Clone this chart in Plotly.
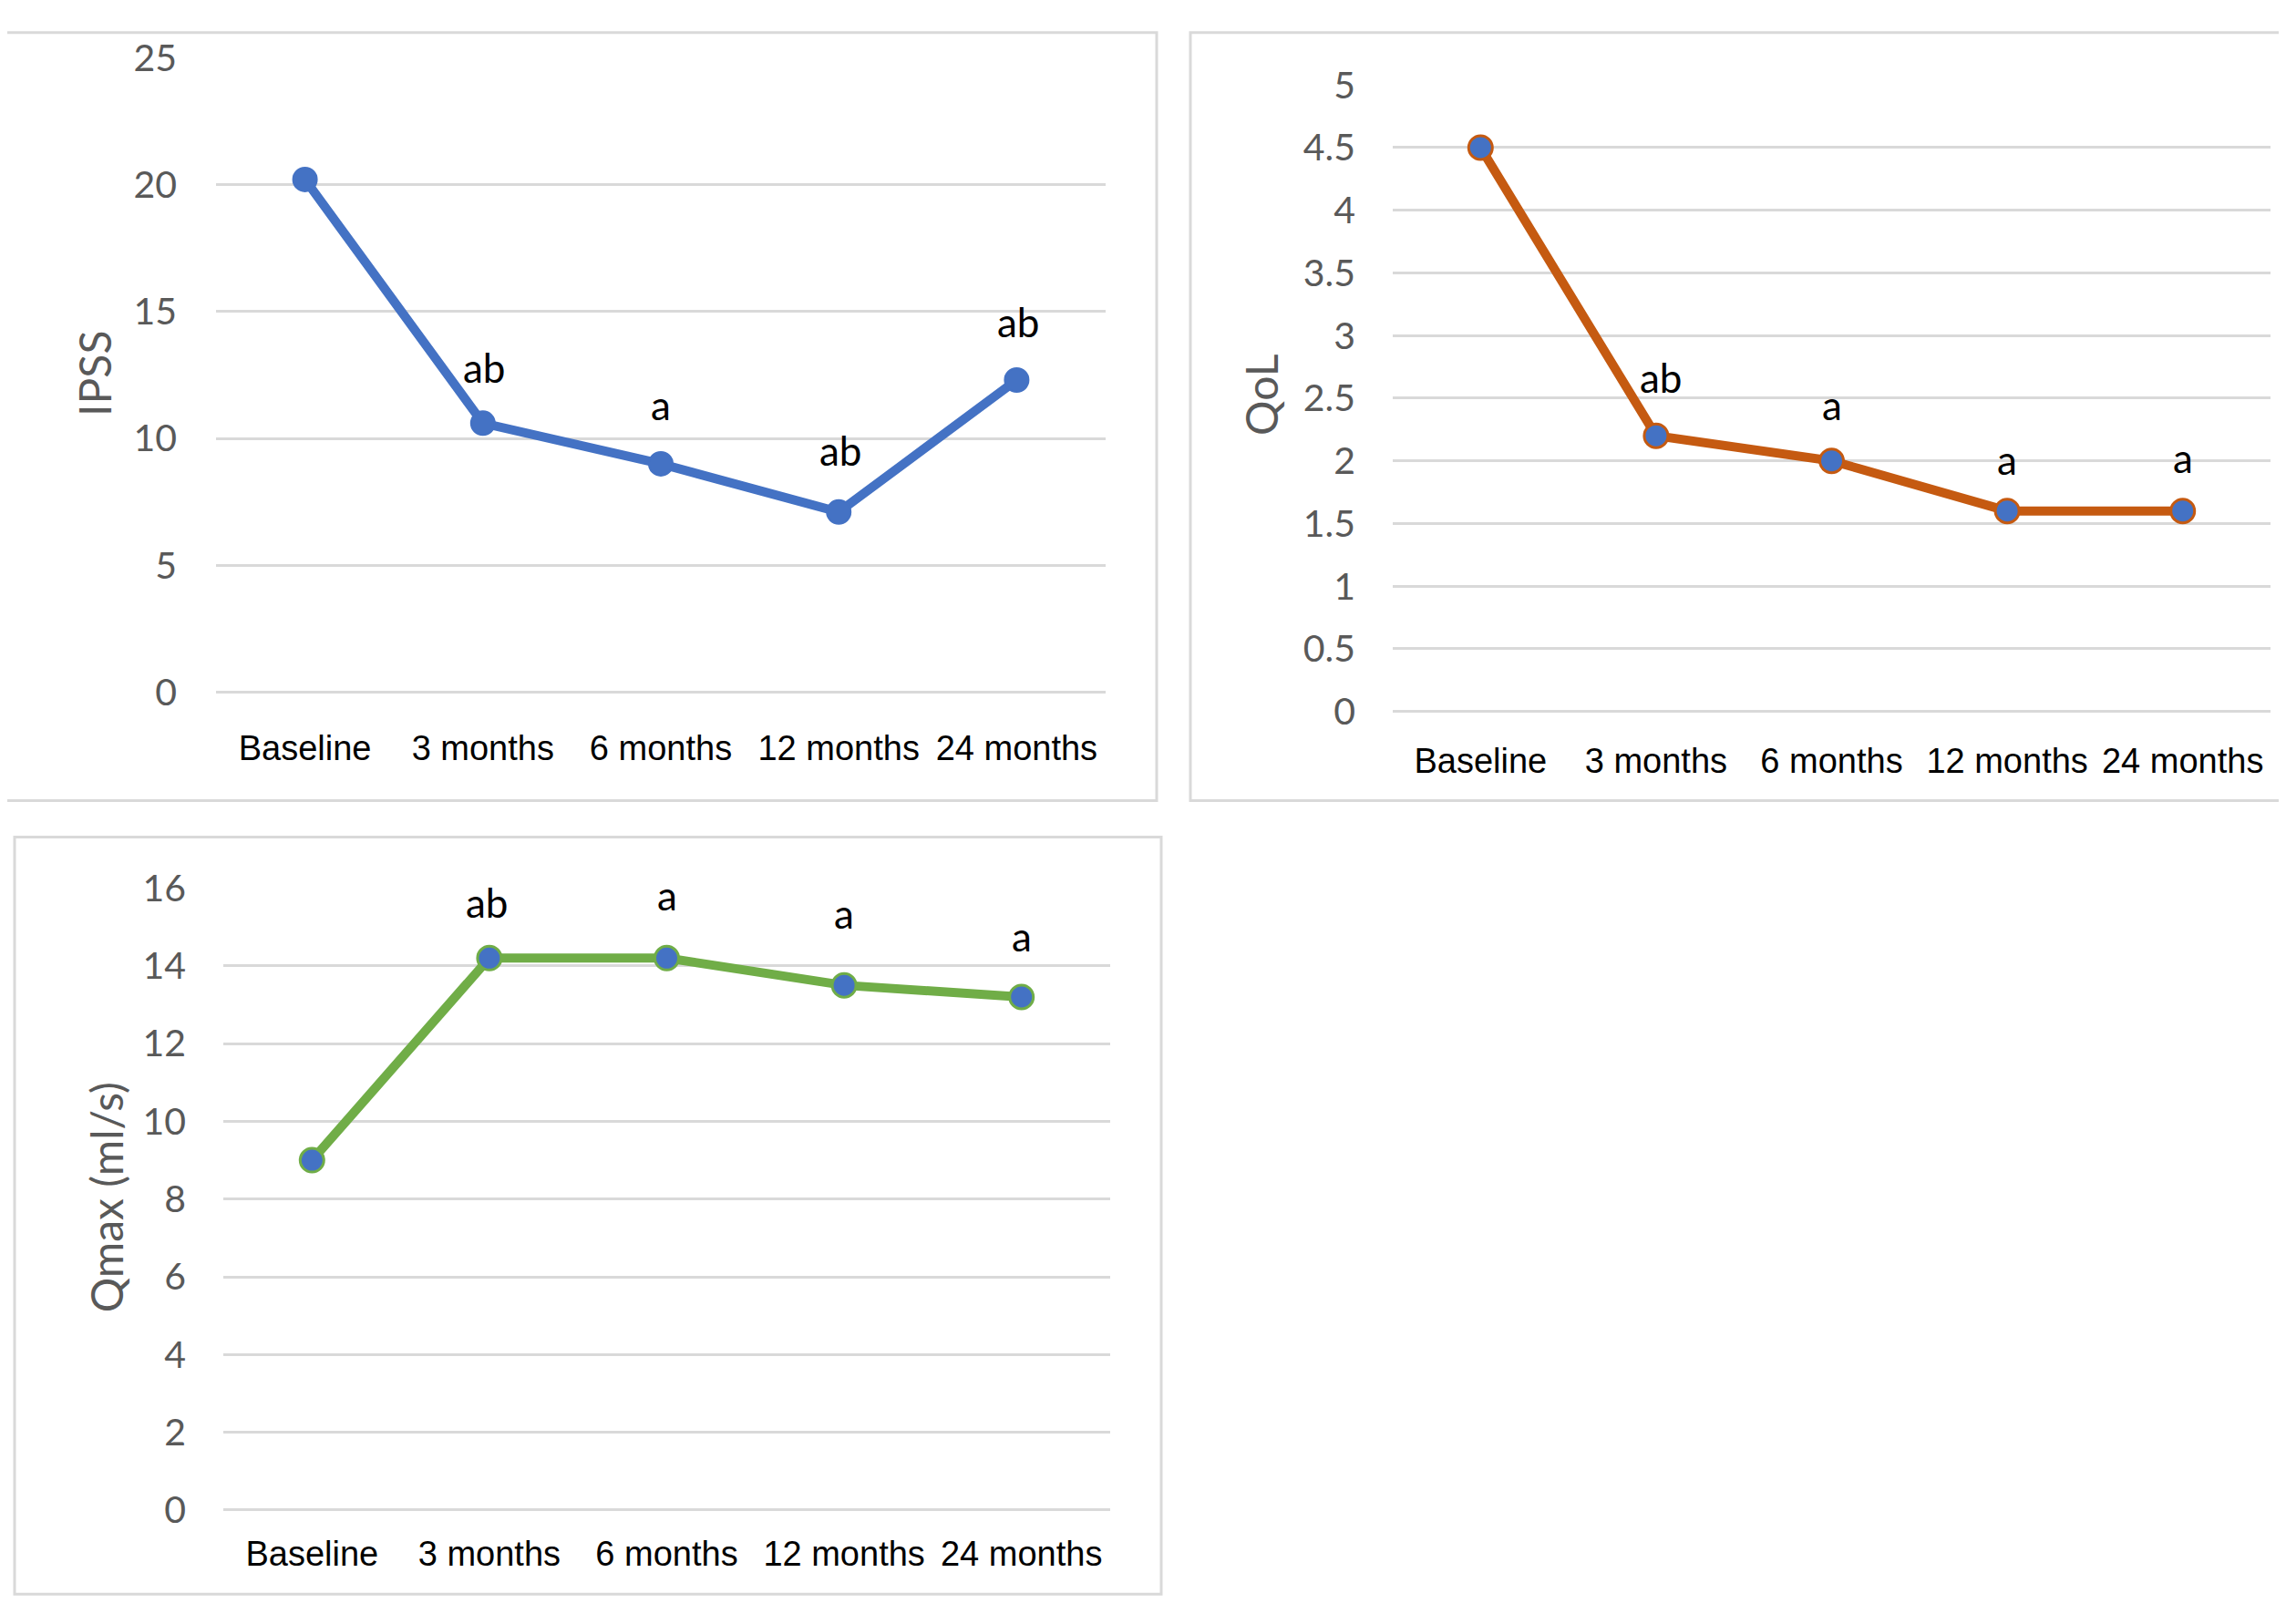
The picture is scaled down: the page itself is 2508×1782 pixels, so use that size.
import plotly.graph_objects as go

categories = ["Baseline", "3 months", "6 months", "12 months", "24 months"]

ipss_values = [20.2, 10.6, 9.0, 7.1, 12.3]
ipss_labels = ["", "ab", "a", "ab", "ab"]
ipss_label_y = [None, 12.8, 11.32, 9.55, 14.58]

qol_values = [4.5, 2.2, 2.0, 1.6, 1.6]
qol_labels = ["", "ab", "a", "a", "a"]
qol_label_y = [None, 2.67, 2.45, 2.01, 2.03]

qmax_values = [9.0, 14.2, 14.2, 13.5, 13.2]
qmax_labels = ["", "ab", "a", "a", "a"]
qmax_label_y = [None, 15.64, 15.82, 15.36, 14.78]

ipss_ticks = [0, 5, 10, 15, 20, 25]
qol_ticks = [0, 0.5, 1, 1.5, 2, 2.5, 3, 3.5, 4, 4.5, 5]
qol_ticktext = ["0", "0.5", "1", "1.5", "2", "2.5", "3", "3.5", "4", "4.5", "5"]
qmax_ticks = [0, 2, 4, 6, 8, 10, 12, 14, 16]

PAGE_W, PAGE_H = 2508, 1782
OFF = 8  # default body margin of the page
W, H = PAGE_W - 2 * OFF, PAGE_H - 2 * OFF
FONT = "Lato, 'Open Sans', sans-serif"
XFONT = "'Liberation Sans', Arial, sans-serif"
TICK_COLOR = "#595959"
GRID = "#d9d9d9"
BLUE = "#4472C4"
ORANGE = "#C55A11"
GREEN = "#70AD47"

fig = go.Figure()

fig.add_trace(go.Scatter(
    x=categories, y=ipss_values, mode="lines+markers",
    line=dict(color=BLUE, width=10),
    marker=dict(color=BLUE, size=26, line=dict(color=BLUE, width=2)),
    xaxis="x", yaxis="y", showlegend=False, cliponaxis=False))
fig.add_trace(go.Scatter(
    x=categories, y=qol_values, mode="lines+markers",
    line=dict(color=ORANGE, width=10),
    marker=dict(color=BLUE, size=26, line=dict(color=ORANGE, width=3)),
    xaxis="x2", yaxis="y2", showlegend=False, cliponaxis=False))
fig.add_trace(go.Scatter(
    x=categories, y=qmax_values, mode="lines+markers",
    line=dict(color=GREEN, width=10),
    marker=dict(color=BLUE, size=26, line=dict(color=GREEN, width=3)),
    xaxis="x3", yaxis="y3", showlegend=False, cliponaxis=False))


def px(v):
    return (v - OFF) / W


def py(r):
    # screen position r (px from top) -> paper coordinate
    v = (r - 24) / 0.973
    return min(1.0, max(0.0, 1 - (v - OFF) / H))


def xaxis(domain, standoff, anchor):
    return dict(domain=domain, type="category", range=[-0.5, 4.5], anchor=anchor,
                showgrid=False, zeroline=False, showline=False, ticks="",
                tickfont=dict(family=XFONT, size=38, color="black"),
                ticklabelstandoff=standoff, fixedrange=True)


def yaxis(domain, rng, tickvals, ticktext, anchor, standoff):
    return dict(domain=domain, range=rng, tickvals=tickvals, ticktext=ticktext,
                showgrid=True, gridcolor=GRID, gridwidth=3,
                zeroline=True, zerolinecolor=GRID, zerolinewidth=3,
                showline=False, ticks="", anchor=anchor,
                tickfont=dict(family=FONT, size=41, color=TICK_COLOR),
                ticklabelstandoff=standoff, fixedrange=True)


fig.update_layout(
    width=W, height=H,
    margin=dict(l=0, r=0, t=0, b=0),
    paper_bgcolor="white", plot_bgcolor="white",
    xaxis=xaxis([px(237), px(1213)], 35, "y"),
    yaxis=yaxis([py(758), py(61)], [0, 25], ipss_ticks, [str(t) for t in ipss_ticks], "x", 42),
    xaxis2=xaxis([px(1528), px(2491)], 28, "y2"),
    yaxis2=yaxis([py(779), py(91)], [0, 5], qol_ticks, qol_ticktext, "x2", 40),
    xaxis3=xaxis([px(245), px(1218)], 22, "y3"),
    yaxis3=yaxis([py(1656), py(973)], [0, 16], qmax_ticks, [str(t) for t in qmax_ticks], "x3", 40),
)

# panel borders
for (x0, y0, x1, y1) in [(6, 6, 1269, 877), (1306, 6, 2504, 877), (16, 917, 1274, 1776)]:
    fig.add_shape(type="rect", xref="paper", yref="paper",
                  x0=px(x0), x1=px(x1), y0=max(py(y1), 0.001), y1=min(py(y0), 0.999),
                  line=dict(color="#d9d9d9", width=3), fillcolor="rgba(0,0,0,0)",
                  layer="below")

# significance letters
for labels, ys, xa, ya, xs in [(ipss_labels, ipss_label_y, "x", "y", 2),
                               (qol_labels, qol_label_y, "x2", "y2", 6),
                               (qmax_labels, qmax_label_y, "x3", "y3", -2)]:
    for i, (cat, lab, yv) in enumerate(zip(categories, labels, ys)):
        if lab:
            fig.add_annotation(x=cat, y=yv, xref=xa, yref=ya, text=lab,
                               showarrow=False, xanchor="center", yanchor="middle",
                               xshift=(xs if lab == "ab" else 0),
                               font=dict(family=FONT, size=44, color="black"))

# axis titles
for title, xc, yc in [("IPSS", 104, 408), ("QoL", 1384, 432), ("Qmax (ml/s)", 116, 1312)]:
    fig.add_annotation(x=px(xc), y=py(yc), xref="paper", yref="paper",
                       text=title, textangle=-90, showarrow=False,
                       xanchor="center", yanchor="middle",
                       font=dict(family=FONT, size=48, color=TICK_COLOR))

fig.write_html("out.html")
